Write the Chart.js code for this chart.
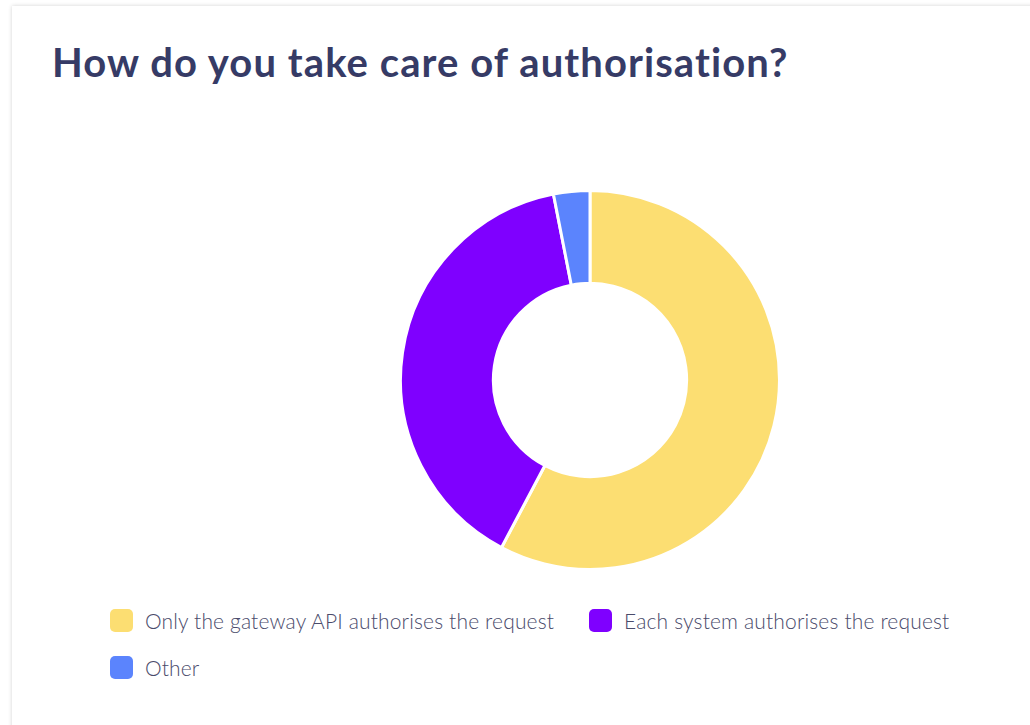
<!DOCTYPE html>
<html>
<head>
<meta charset="utf-8">
<script src="https://cdn.jsdelivr.net/npm/chart.js@4.4.1/dist/chart.umd.min.js"></script>
<style>
    html, body { margin: 0; padding: 0; background: #fff; overflow: hidden; }
    body { width: 1030px; height: 725px; position: relative; }
    .card {
        position: absolute; left: 12px; top: 6px; width: 1100px; height: 800px;
        background: #fff; box-shadow: 0 0 4px rgba(0, 0, 0, 0.18);
    }
    h1 {
        position: absolute; left: 40px; top: 32px; margin: 0;
        font-family: Lato, sans-serif; font-weight: 700; font-size: 40px;
        color: #363b66; letter-spacing: 1.08px;
    }
    .chart-box { position: absolute; left: 387px; top: 183px; width: 382px; height: 382px; }
    .legend {
        position: absolute; left: 98px; top: 602px; width: 900px;
        display: flex; flex-wrap: wrap; column-gap: 35px; row-gap: 11px;
        font-family: Lato, sans-serif; font-weight: 300; font-size: 21px; color: #4a4b6b;
        letter-spacing: 0.15px;
    }
    .legend-item { display: flex; align-items: center; height: 25px; }
    .legend-box { width: 23px; height: 23px; border-radius: 5px; margin-right: 12px; }
</style>
</head>
<body>
<div class="card">
    <h1>How do you take care of authorisation?</h1>
    <div class="chart-box"><canvas id="authChart"></canvas></div>
    <div class="legend" id="legend"></div>
</div>
<script>
// Survey answers (counts)
const labels = ['Only the gateway API authorises the request', 'Each system authorises the request', 'Other'];
const counts = [56, 38, 3];
const colors = ['#fcde72', '#7f00ff', '#5b84fd'];

document.addEventListener('DOMContentLoaded', function() {
    createAuthChart();
    buildLegend();
});

function createAuthChart() {
    const ctx = document.getElementById('authChart').getContext('2d');
    new Chart(ctx, {
        type: 'doughnut',
        data: {
            labels: labels,
            datasets: [{
                data: counts,
                backgroundColor: colors,
                borderColor: '#ffffff',
                borderWidth: 3
            }]
        },
        options: {
            responsive: true,
            maintainAspectRatio: false,
            animation: false,
            cutout: '51%',
            layout: { padding: 0 },
            plugins: {
                legend: { display: false },
                tooltip: { enabled: false }
            }
        }
    });
}

function buildLegend() {
    const legend = document.getElementById('legend');
    labels.forEach(function(label, i) {
        const item = document.createElement('div');
        item.className = 'legend-item';
        const box = document.createElement('span');
        box.className = 'legend-box';
        box.style.background = colors[i];
        const text = document.createElement('span');
        text.textContent = label;
        item.appendChild(box);
        item.appendChild(text);
        legend.appendChild(item);
        if (i === 1) {
            // force "Other" onto the second row
            const br = document.createElement('div');
            br.style.flexBasis = '100%';
            br.style.height = '0';
            legend.appendChild(br);
        }
    });
}
</script>
</body>
</html>
